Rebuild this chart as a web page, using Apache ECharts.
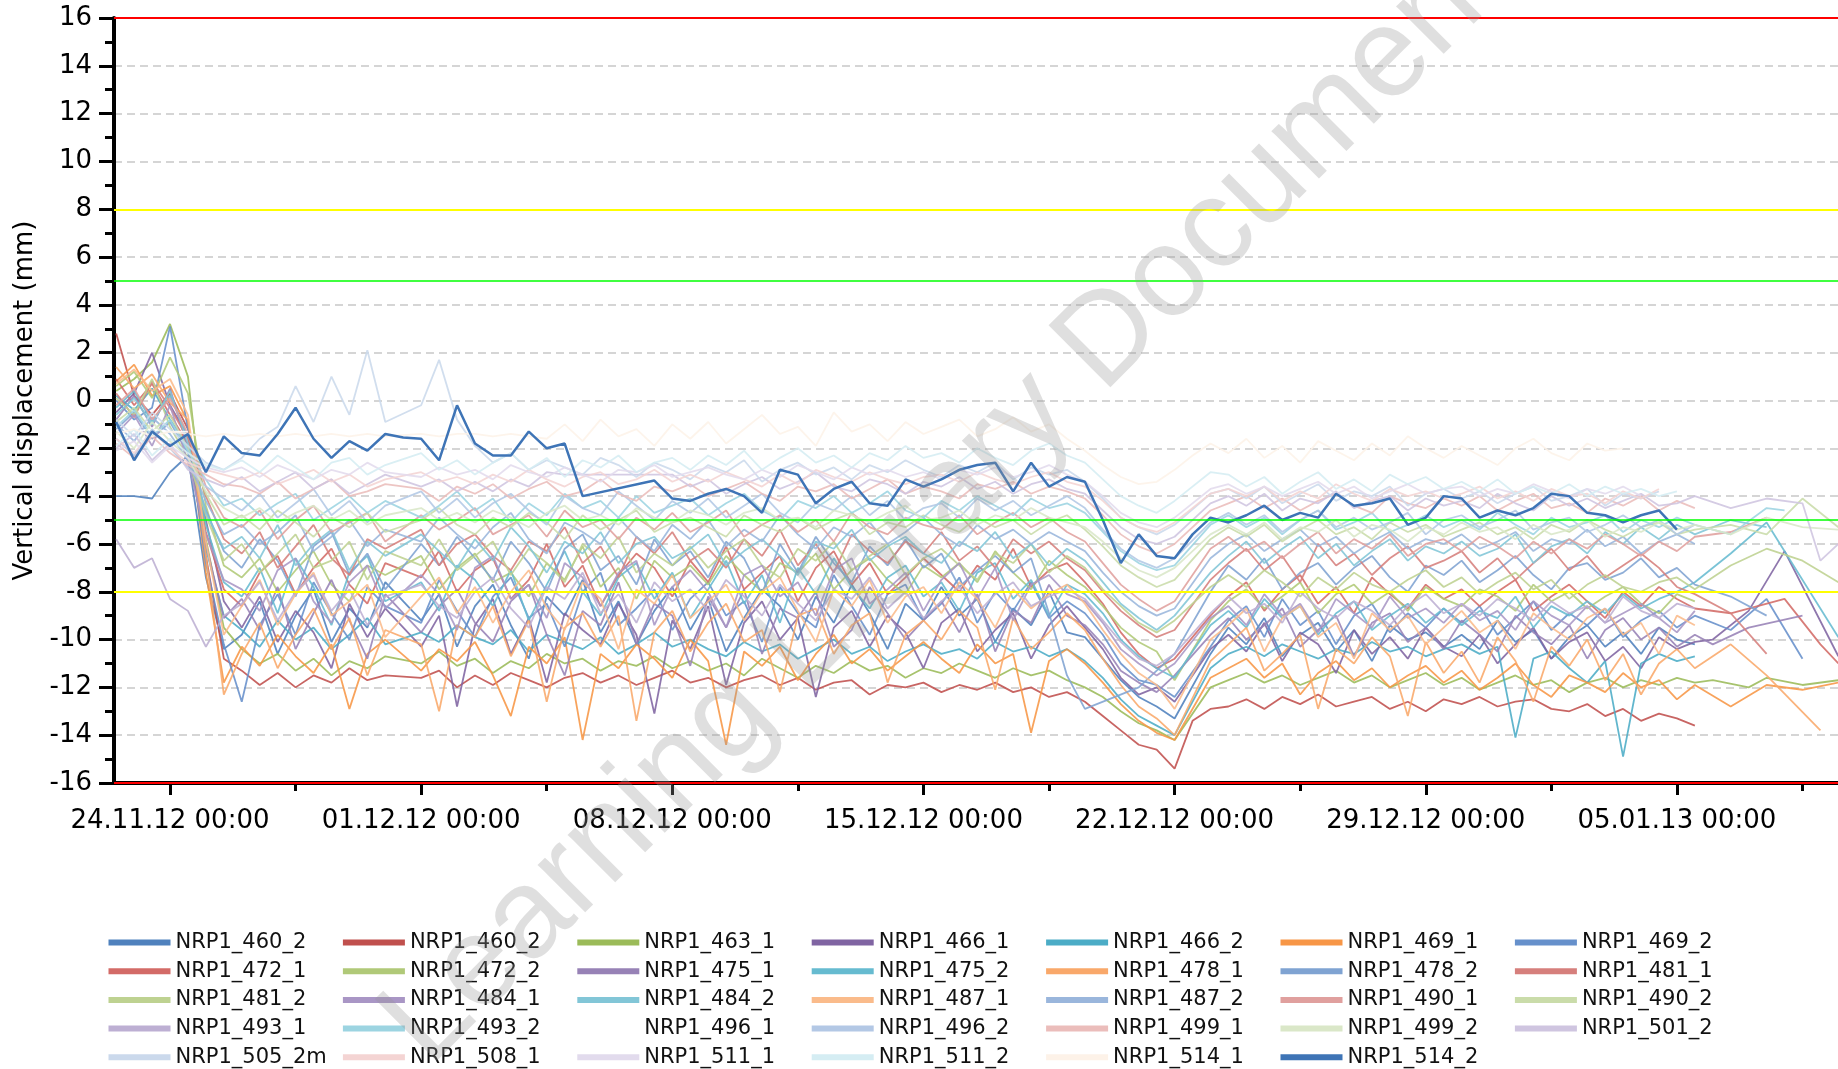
<!DOCTYPE html>
<html>
<head>
<meta charset="utf-8">
<title>Vertical displacement</title>
<script src="https://cdn.jsdelivr.net/npm/echarts@6/dist/echarts.min.js"></script>
<style>
  html, body { margin: 0; padding: 0; background: #fff; }
  #main { width: 1838px; height: 1069px; }
</style>
</head>
<body>
<div id="main"></div>
<script>
const _ = null;

// sample times in days after 24.11.12 00:00
const days = [-1.5,-1,-0.5,0,0.5,1,1.5,2,2.5,3,3.5,4,4.5,5,5.5,6,6.5,7,7.5,8,8.5,9,9.5,10,10.5,11,11.5,12,12.5,13,13.5,14,14.5,15,15.5,16,16.5,17,17.5,18,18.5,19,19.5,20,20.5,21,21.5,22,22.5,23,23.5,24,24.5,25,25.5,26,26.5,27,27.5,28,28.5,29,29.5,30,30.5,31,31.5,32,32.5,33,33.5,34,34.5,35,35.5,36,36.5,37,37.5,38,38.5,39,39.5,40,40.5,41,41.5,42,42.5,43,43.5,44,44.5,45,45.5,46,46.5];

const labelDays = [0, 7, 14, 21, 28, 35, 42];
const minorDays = [3.5, 10.5, 17.5, 24.5, 31.5, 38.5, 45.5];

const redLimits = [16, -16];
const yellowLimits = [8, -8];
const greenLimits = [5, -5];

// vertical displacement (mm)
const v460_2a = [-4.0,-4.0,-4.1,-3.0,-2.3,-7.4,-10.4,
  -9.8,-8.4,-10.6,-9.0,-7.9,-10.1,-8.7,-9.5,-7.6,_,-9.2,-8.1,-10.3,
  -8.6,-7.7,-9.4,-10.8,-8.2,-9.0,-7.5,-9.7,-8.4,-10.2,-8.8,-7.8,-9.6,
  -8.3,-10.5,-9.1,-7.9,-8.6,-10.0,-8.2,-9.3,-7.7,-8.9,-10.4,-8.5,-9.2,
  -7.8,-9.0,-8.3,-10.1,-8.7,-9.4,-8.0,-9.7,
  -9.9,-10.8,-11.7,-12.4,-12.8,-13.3,_,-10.6,
  -9.5,-10.2,-9.1,-10.7,-9.8,-9.3,-10.5,-9.6,-10.9,-9.4,-10.0,-9.7,-10.3,
  -9.8,-10.4,-9.2,-10.1,-9.6,-10.8,-9.9,-9.4,-10.3,-9.7,-10.6,-9.5,-10.0,-10.2];
const v460_2b = [2.8,0.2,-0.6,0.3,-1.2,-6.5,-10.8,
  -11.3,-11.9,-11.4,-12.0,-11.5,-11.8,-11.2,-11.7,-11.5,_,-11.6,-11.3,-12.0,
  -11.5,-11.9,-11.4,-11.7,-12.0,-11.6,-11.4,-11.8,-11.5,-11.9,-11.6,-11.3,-11.8,
  -11.6,-12.0,-11.7,-11.5,-11.9,-11.6,-12.1,-11.8,-11.7,-12.3,-11.9,-12.0,-11.8,
  -12.2,-11.9,-12.1,-11.8,-12.2,-12.0,-12.4,-12.2,
  -12.6,-13.2,-13.8,-14.4,-14.6,-15.4,-13.4,-12.9,
  -12.8,-12.5,-12.9,-12.4,-12.7,-12.3,-12.8,-12.6,-12.4,-12.9,-12.6,-13.0,-12.5,
  -12.7,-12.4,-12.8,-12.6,-12.5,-12.9,-13.0,-12.7,-13.2,-12.9,-13.4,-13.1,-13.3,-13.6];
const v463_1 = [0.4,0.9,1.6,3.2,1.0,-5.8,-9.5,
  -10.4,-11.0,-10.6,-11.3,-10.8,-11.5,-10.9,-11.2,-10.7,_,-11.0,-10.5,-11.1,
  -10.8,-11.4,-10.9,-11.2,-10.6,-11.0,-10.8,-11.3,-10.9,-11.1,-10.7,-11.2,-10.9,
  -11.3,-11.0,-11.5,-10.8,-11.2,-11.6,-11.1,-11.4,-10.9,-11.3,-11.1,-11.6,-11.2,
  -11.4,-11.0,-11.3,-11.6,-11.2,-11.5,-11.3,-11.7,
  -12.0,-12.4,-13.0,-13.5,-13.8,-14.2,_,-12.0,
  -11.7,-11.4,-11.8,-11.5,-11.9,-11.6,-11.3,-11.8,-11.5,-12.0,-11.7,-11.4,-11.9,
  -11.6,-12.1,-11.8,-11.5,-11.9,-11.7,-12.2,-11.8,-11.6,-12.0,-11.7,-11.9,-11.6,-11.8,
  -11.7,_,-12.0,-11.6,_,-11.9,_,-11.7];
const v466_1 = [-0.5,0.3,2.0,-0.2,-1.5,-5.0,-8.4,
  -9.5,-8.2,-10.1,-8.8,-9.7,-11.2,-8.5,-9.9,-8.7,_,-10.3,-9.0,-12.8,
  -9.4,-8.3,-10.6,-9.1,-11.8,-8.9,-9.6,-10.2,-8.5,-9.8,-13.1,-9.2,-10.4,
  -8.6,-11.9,-9.3,-8.4,-10.0,-9.1,-12.4,-9.5,-8.8,-10.3,-9.0,-9.7,-11.2,
  -9.3,-8.7,-10.5,-9.6,-8.9,-10.8,-9.4,-8.6,
  -9.5,-10.4,-11.6,-12.3,-12.0,-12.6,_,-10.4,
  -9.8,-10.5,-9.3,-10.9,-9.7,-10.2,-11.4,-9.6,-10.6,-9.9,-10.8,-9.5,-10.3,
  -10.7,-9.8,-11.0,-10.2,-9.5,-10.8,-10.1,-9.7,-10.9,-10.3,-11.2,-9.9,-10.4,-10.1,
  -10.0,_,-8.8,_,-6.3,_,_,-10.7];
const v466_2 = [0.2,-0.4,0.5,-0.8,-1.9,-6.2,-9.0,
  -9.6,-10.3,-9.2,-10.0,-9.5,-10.4,-9.8,-9.1,-10.2,_,-9.7,-10.1,-9.4,
  -9.9,-10.2,-9.6,-10.5,-9.8,-10.1,-10.4,-9.9,-10.6,-10.2,-9.7,-10.3,-10.0,
  -10.4,-10.7,-10.1,-10.5,-10.2,-10.8,-10.4,-10.0,-10.6,-10.3,-10.9,-10.5,-10.2,
  -10.6,-10.4,-10.8,-10.1,-10.5,-10.3,-10.7,-10.4,
  -10.9,-11.6,-12.5,-13.2,-13.6,-14.0,_,-11.2,
  -10.6,-10.3,-10.7,-10.2,-10.5,-10.8,-10.4,-10.6,-10.1,-10.5,-10.3,-10.7,-10.4,
  -10.2,-10.6,-10.3,-14.1,-10.8,-10.5,-11.2,-11.8,-10.9,-14.9,-11.0,-10.6,-10.9,-10.7];
const v469_1 = [0.8,1.5,0.2,0.6,-0.9,-7.2,-11.8,
  -10.3,-11.1,-9.8,-10.7,-11.4,-10.2,-12.9,-10.6,-10.0,_,-11.3,-10.4,-10.9,
  -10.1,-11.5,-13.2,-10.3,-11.0,-9.9,-14.2,-10.6,-11.2,-10.2,-10.8,-11.6,-10.0,
  -10.9,-14.4,-10.5,-11.1,-10.3,-11.7,-10.6,-9.8,-11.0,-10.4,-11.3,-10.7,-10.1,
  -10.8,-11.4,-10.2,-11.0,-10.6,-13.9,-10.9,-10.4,
  -11.0,-11.8,-12.7,-13.4,-13.9,-14.2,_,-11.6,
  -11.2,-10.8,-11.6,-11.0,-12.3,-11.4,-10.9,-11.7,-11.2,-12.0,-11.5,-11.1,-11.8,
  -11.3,-12.1,-11.6,-11.0,-11.9,-12.4,-11.5,-11.8,-12.2,-11.4,-12.0,-11.7,-12.5,-11.9,
  _,-12.8,_,-11.9,_,-12.1,_,-11.8];
const v469_2 = [0.0,-0.8,-0.3,3.1,-1.2,-6.8,-10.2,
  -12.6,-9.4,-8.1,-9.8,-7.6,-8.9,-10.0,-7.8,-8.6,_,-9.3,-7.5,-8.8,
  -9.9,-8.2,-7.4,-9.1,-8.5,-10.3,-8.0,-7.2,-9.4,-8.7,-7.9,-9.6,-8.3,
  -7.6,-9.0,-8.4,-10.1,-7.8,-8.9,-9.5,-7.3,-8.6,-9.8,-8.1,-7.7,-9.2,
  -8.5,-7.4,-9.3,-8.0,-8.8,-7.6,-9.1,-8.4,
  -8.9,-9.8,-11.0,-11.7,-11.9,-12.4,_,-10.3,
  -9.2,-8.6,-9.9,-8.3,-9.4,-8.8,-10.2,-9.0,-8.5,-9.7,-8.9,-9.5,-8.7,
  -9.3,-8.6,-9.8,-9.1,-8.4,-9.6,-8.9,-9.4,-8.7,-9.9,-9.2,-8.8,-9.5,-9.0,
  _,-9.6,_,-8.3,_,-10.8];
const v472_1 = [0.9,-0.2,0.7,-0.6,-1.8,-5.5,-7.9,
  -8.6,-7.2,-6.5,-8.1,-7.0,-6.2,-7.7,-8.5,-6.8,_,-7.4,-6.3,-8.0,
  -7.1,-6.6,-8.3,-7.5,-6.0,-7.8,-6.9,-8.6,-7.3,-6.4,-7.0,-8.2,-6.7,
  -7.6,-6.1,-7.9,-7.2,-6.5,-8.4,-7.0,-6.3,-7.7,-6.8,-8.1,-7.4,-6.6,
  -7.3,-8.0,-6.9,-7.5,-6.2,-7.8,-7.1,-6.8,
  -7.6,-8.5,-9.7,-10.6,-11.2,-10.8,_,-9.0,
  -8.2,-7.6,-8.8,-7.9,-7.3,-8.5,-7.8,-8.9,-7.4,-8.1,-8.7,-7.7,-8.3,
  -7.9,-8.6,-8.0,-7.5,-8.8,-8.2,-7.7,-8.4,-9.1,-8.0,-8.6,-7.8,-8.3,-8.7,
  _,-8.9,_,_,-8.3,_,-10.2,-11.0];
const v472_2 = [0.6,1.2,0.1,1.8,0.3,-4.4,-6.9,
  -7.4,-6.6,-8.0,-7.1,-6.3,-7.7,-8.4,-6.9,-7.3,_,-6.5,-7.9,-7.0,
  -6.4,-7.6,-7.2,-8.2,-6.8,-7.5,-6.1,-7.8,-7.0,-8.3,-6.7,-7.4,-6.9,
  -7.7,-6.5,-7.3,-8.0,-6.8,-7.2,-6.4,-7.9,-7.1,-6.6,-7.5,-8.1,-6.9,
  -7.4,-6.8,-7.6,-6.3,-7.2,-7.9,-6.7,-7.3,
  -7.8,-8.6,-9.5,-10.1,-10.5,-11.7,_,-9.2,
  -8.4,-7.9,-8.7,-8.2,-7.6,-8.9,-8.1,-7.7,-8.5,-8.0,-8.8,-7.8,-8.3,
  -8.6,-7.9,-8.2,-8.8,-7.7,-8.4,-8.0,-8.7,-8.2,-7.8,-8.5,-8.9,-8.1,-8.4];
const v475_1 = [-0.8,0.2,-1.1,0.5,-2.0,-6.0,-9.1,
  -8.3,-9.6,-7.8,-10.4,-8.9,-7.5,-9.2,-10.8,-8.1,_,-9.7,-8.6,-7.9,
  -9.3,-10.1,-8.4,-7.7,-9.8,-11.5,-8.8,-9.4,-7.6,-10.2,-8.5,-9.0,-11.1,
  -8.2,-9.5,-7.9,-10.6,-8.7,-9.1,-8.0,-10.3,-9.6,-7.8,-8.9,-10.0,-9.2,
  -8.4,-9.7,-8.1,-10.5,-8.8,-9.3,-7.7,-9.0,
  -9.4,-10.2,-11.3,-11.8,-12.2,-11.5,_,-9.8,
  -9.1,-10.0,-9.4,-8.7,-10.3,-9.6,-9.0,-10.7,-9.3,-8.9,-10.1,-9.5,-10.4,
  -9.2,-9.8,-10.5,-9.0,-9.7,-10.2,-9.4,-10.8,-9.6,-9.1,-10.0,-9.5,-10.3,-9.8,
  -10.2,_,-9.5,_,_,-9.0];
const v475_2 = [-0.3,0.4,-0.9,0.2,-1.5,-5.2,-7.6,
  -8.2,-7.0,-8.9,-6.6,-7.8,-9.4,-7.2,-6.5,-8.4,_,-7.6,-8.8,-6.9,
  -7.5,-8.6,-7.1,-9.2,-7.7,-6.3,-8.0,-9.0,-7.4,-6.8,-8.3,-7.2,-9.1,
  -7.9,-6.7,-8.5,-7.3,-9.3,-7.0,-8.1,-6.6,-7.8,-8.7,-7.4,-6.9,-8.2,
  -7.6,-8.8,-7.2,-6.8,-8.3,-7.5,-9.0,-7.7,
  -8.1,-8.9,-10.0,-10.7,-11.2,-11.6,_,-9.4,
  -8.8,-9.5,-8.3,-9.1,-8.6,-9.8,-8.9,-8.4,-9.6,-9.0,-8.5,-9.3,-8.7,
  -9.4,-8.8,-9.1,-8.2,-9.5,-8.6,-9.0,-8.4,-8.9,-8.1,-8.7,-8.3,-8.0,-7.6,
  _,-6.4,_,-5.1,_,_,_,-9.9];
const v478_1 = [1.4,0.5,1.1,-0.1,-0.8,-6.5,-12.3,
  -10.6,-9.3,-11.2,-9.8,-8.7,-10.4,-9.1,-11.5,-9.6,_,-10.2,-13.0,-9.4,
  -9.9,-8.6,-10.7,-9.2,-12.6,-9.5,-8.9,-10.3,-9.0,-13.4,-9.7,-8.8,-10.5,
  -9.3,-8.5,-10.1,-9.6,-12.2,-9.0,-8.7,-10.6,-9.4,-8.9,-11.8,-9.8,-9.2,
  -10.0,-8.8,-9.5,-12.1,-9.1,-10.4,-9.7,-8.9,
  -9.6,-10.8,-11.9,-12.8,-13.3,-14.0,_,-10.9,
  -10.2,-9.5,-11.3,-10.6,-9.8,-12.9,-10.4,-11.0,-9.9,-10.7,-13.2,-10.1,-11.4,
  -10.5,-11.8,-9.9,-10.9,-12.6,-10.3,-11.1,-10.0,-11.7,-10.6,-12.3,-11.0,-10.4,-11.2,
  _,-10.2,_,-11.5,_,_,-13.8];
const v478_2 = [-1.2,-0.5,-1.6,-0.9,-2.2,-4.6,-6.3,
  -7.0,-5.8,-6.7,-8.2,-6.1,-5.5,-7.3,-6.4,-7.9,_,-6.0,-6.9,-5.7,
  -6.6,-7.5,-5.9,-6.8,-8.0,-6.2,-5.6,-7.1,-6.5,-7.7,-5.8,-6.9,-6.3,
  -7.4,-5.9,-6.6,-8.1,-6.0,-7.2,-5.7,-6.8,-7.6,-6.1,-6.9,-5.8,-7.0,
  -6.4,-7.8,-7.1,-6.5,-7.2,-6.6,-8.9,-11.5,
  -12.9,_,_,-12.0,-11.3,-10.6,_,-8.0,
  -6.9,-7.5,-6.6,-7.9,-7.2,-6.8,-7.7,-7.0,-6.5,-7.4,-8.0,-6.9,-7.3,
  -6.7,-7.6,-7.1,-6.5,-7.3,-7.9,-7.0,-6.8,-7.5,-7.2,-6.6,-7.4,-7.0,-7.7,
  _,-8.2,_,-9.0];
const v481_1 = [0.3,-0.7,0.8,-0.3,-1.6,-4.0,-5.8,
  -6.4,-5.5,-7.0,-6.1,-5.2,-6.6,-7.3,-5.8,-6.2,_,-5.4,-6.9,-6.0,
  -5.6,-6.5,-7.1,-5.9,-6.3,-5.3,-6.8,-6.1,-7.4,-5.7,-6.4,-5.5,-6.7,
  -6.2,-7.0,-5.8,-6.5,-5.4,-6.9,-6.0,-7.2,-5.6,-6.3,-6.8,-5.9,-6.4,
  -5.5,-6.7,-6.1,-7.0,-5.8,-6.4,-5.9,-6.6,
  -7.1,-8.0,-8.8,-9.4,-9.9,-9.6,_,-7.5,
  -6.8,-6.2,-7.1,-6.5,-7.6,-6.0,-6.9,-6.4,-7.3,-6.6,-6.1,-7.0,-6.7,
  -6.3,-7.2,-6.6,-7.5,-6.8,-6.2,-7.1,-6.5,-7.4,-6.9,-6.4,-7.0,-7.8,-8.1,
  _,-8.9,_,-10.6];
const v481_2 = [0.1,-0.6,0.9,-1.1,-2.4,-4.8,-6.7,
  -6.0,-7.2,-6.4,-5.6,-7.0,-6.7,-5.9,-7.5,-6.3,_,-6.9,-5.8,-7.1,
  -6.5,-5.9,-7.3,-6.2,-6.8,-7.6,-6.0,-6.6,-5.7,-7.2,-6.4,-6.9,-6.1,
  -7.0,-6.3,-5.8,-6.9,-7.4,-6.2,-6.7,-5.9,-7.1,-6.5,-6.0,-7.3,-6.6,
  -6.2,-6.9,-7.5,-6.4,-6.8,-6.0,-7.2,-6.5,
  -7.0,-7.9,-8.6,-9.3,-9.7,-9.2,_,-7.8,
  -7.3,-7.8,-7.1,-7.6,-8.2,-7.4,-7.9,-7.2,-7.7,-8.0,-7.5,-7.1,-7.8,
  -7.4,-8.1,-7.6,-7.2,-7.9,-7.5,-8.3,-7.7,-7.3,-7.8,-8.0,-7.6,-7.4,-7.9,
  _,-6.9,_,-6.2,_,-6.7,_,-7.6];
const v484_1 = [-1.4,-0.6,-1.9,-0.2,-2.6,-5.6,-7.5,
  -7.9,-8.8,-7.1,-6.6,-8.4,-9.3,-7.6,-6.9,-8.7,_,-7.3,-8.1,-9.6,
  -7.0,-6.5,-8.3,-7.7,-9.1,-6.8,-7.4,-8.6,-7.2,-6.7,-9.4,-7.8,-7.1,
  -8.0,-9.5,-7.3,-6.9,-8.2,-7.6,-9.0,-7.1,-6.6,-8.5,-7.9,-7.2,-8.8,
  -7.5,-6.8,-8.3,-7.0,-9.2,-7.7,-7.3,-8.1,
  -8.4,-9.3,-10.4,-11.0,-11.5,-11.0,_,-9.1,
  -8.6,-9.4,-8.1,-9.0,-8.5,-9.7,-8.3,-8.9,-9.5,-8.2,-9.1,-8.7,-9.3,
  -8.5,-9.2,-8.8,-9.6,-8.4,-9.0,-9.4,-8.6,-9.3,-8.9,-8.5,-9.1,-9.7,-8.8];
const v484_2 = [-0.6,0.1,-1.0,0.4,-1.8,-4.7,-6.2,
  -5.7,-6.6,-5.2,-6.9,-6.0,-5.4,-7.1,-5.9,-6.5,_,-5.6,-6.3,-7.0,
  -5.8,-6.7,-5.3,-6.1,-7.2,-5.9,-6.4,-5.5,-6.8,-6.0,-5.7,-6.6,-6.2,
  -5.6,-6.9,-6.3,-5.8,-6.5,-7.3,-5.9,-6.2,-5.4,-6.7,-6.1,-5.7,-6.4,
  -6.8,-5.9,-6.3,-5.5,-6.6,-6.0,-6.9,-6.2,
  -6.7,-7.6,-8.5,-9.1,-9.6,-9.0,_,-7.2,
  -6.5,-5.9,-6.8,-6.2,-5.7,-6.6,-6.0,-6.9,-6.3,-5.8,-6.7,-6.1,-6.4,
  -5.9,-6.5,-6.2,-5.6,-6.8,-6.1,-5.8,-6.4,-5.5,-6.0,-5.3,-5.8,-5.2,-5.6,
  _,-5.0,_,-5.3];
const v487_1 = [0.7,1.3,0.4,0.9,-0.6,-5.9,-9.8,
  -8.6,-7.5,-9.4,-8.1,-7.2,-9.0,-8.4,-7.7,-9.9,_,-8.2,-7.4,-8.9,
  -7.8,-9.3,-8.0,-7.1,-8.7,-9.6,-7.6,-8.3,-10.4,-7.9,-8.5,-7.3,-9.1,
  -8.4,-7.7,-9.2,-8.0,-7.4,-8.8,-10.1,-7.9,-8.6,-7.5,-9.3,-8.2,-7.8,
  -8.9,-7.6,-8.3,-9.5,-7.9,-8.7,-8.1,-7.7,
  -8.5,-9.6,-10.6,-11.4,-11.9,-12.9,_,-10.0,
  -9.4,-8.7,-10.5,-9.1,-8.6,-9.9,-9.3,-10.8,-8.9,-9.6,-9.0,-10.2,-9.5,
  -8.8,-9.7,-9.2,-10.4,-8.9,-9.5,-10.0,-9.1,-8.7,-9.8,-9.3,-10.6,-9.0,-9.4];
const v487_2 = [-1.0,-1.7,-0.7,-1.4,-2.5,-4.2,-5.6,
  -5.2,-6.0,-5.5,-4.8,-6.3,-5.7,-5.0,-6.1,-5.4,_,-5.9,-4.9,-5.6,
  -6.2,-5.3,-4.7,-5.8,-6.4,-5.1,-5.5,-6.0,-4.9,-5.7,-6.3,-5.2,-5.8,
  -5.0,-6.1,-5.4,-5.9,-4.8,-5.6,-6.2,-5.3,-5.7,-5.1,-6.0,-5.5,-4.9,
  -5.6,-6.1,-5.2,-5.8,-5.4,-6.0,-5.5,-5.9,
  -6.3,-7.2,-8.0,-8.6,-9.0,-8.7,_,-6.6,
  -6.0,-5.6,-6.3,-5.8,-5.4,-6.1,-5.7,-6.4,-5.9,-5.5,-6.2,-5.8,-6.0,
  -5.6,-6.2,-5.9,-5.5,-6.3,-5.8,-6.0,-5.4,-6.1,-5.7,-6.4,-5.9,-5.6,-6.0];
const v490_1 = [-0.2,0.5,-0.8,0.1,-1.4,-3.6,-4.9,
  -5.3,-4.6,-5.8,-5.0,-4.4,-5.5,-5.1,-4.7,-5.9,_,-4.8,-5.4,-5.0,
  -4.5,-5.6,-5.2,-4.8,-5.7,-4.6,-5.3,-5.0,-5.8,-4.9,-5.4,-4.7,-5.5,
  -5.1,-4.6,-5.7,-5.2,-4.8,-5.5,-5.0,-5.9,-4.7,-5.3,-5.6,-4.9,-5.2,
  -5.4,-4.8,-5.6,-5.1,-4.7,-5.3,-4.9,-5.5,
  -5.9,-6.8,-7.7,-8.3,-8.8,-8.4,_,-6.2,
  -5.7,-6.3,-5.9,-6.6,-6.0,-5.5,-6.4,-5.8,-6.2,-5.6,-6.5,-6.0,-5.8,
  -6.3,-5.7,-6.1,-6.6,-5.9,-6.4,-5.8,-6.2,-5.6,-6.0,-6.5,-5.9,-6.3,-5.7,
  _,-5.5,_,-4.9];
const v490_2 = [-0.9,-0.3,-1.3,-0.6,-2.0,-3.9,-5.2,
  -4.8,-5.4,-4.6,-5.1,-5.7,-4.9,-5.3,-4.7,-5.5,_,-5.0,-4.5,-5.2,
  -5.6,-4.9,-5.3,-4.7,-5.1,-5.8,-4.8,-5.4,-5.0,-4.6,-5.5,-5.1,-4.9,
  -5.3,-5.7,-4.8,-5.2,-5.5,-4.9,-5.4,-5.0,-4.7,-5.6,-5.1,-5.3,-4.8,
  -5.2,-5.5,-4.9,-5.3,-5.0,-5.6,-5.1,-4.8,
  -5.4,-6.1,-6.9,-7.4,-7.8,-7.5,_,-5.8,
  -5.3,-5.7,-5.2,-5.9,-5.4,-5.0,-5.6,-5.3,-5.8,-5.1,-5.5,-5.2,-5.7,
  -5.4,-5.1,-5.6,-5.3,-5.8,-5.2,-5.5,-5.0,-5.4,-5.7,-5.3,-5.1,-5.6,-5.4,
  _,-5.2,_,-5.6,_,-4.1,_,-5.3];
const v493_1 = [-5.8,-7.0,-6.6,-8.3,-8.8,-10.3,-9.0,
  -8.5,-7.6,-9.2,-8.0,-7.3,-8.8,-7.9,-9.4,-8.2,_,-7.7,-8.6,-9.1,
  -8.0,-7.4,-8.7,-9.5,-7.8,-8.3,-7.2,-8.9,-8.1,-9.3,-7.6,-8.4,-7.9,
  -8.8,-7.5,-8.2,-9.0,-7.7,-8.5,-9.2,-7.9,-8.3,-7.4,-8.7,-8.0,-9.1,
  -8.4,-7.8,-8.9,-8.1,-7.6,-8.6,-8.2,-7.9,
  -8.3,-9.2,-10.1,-10.8,-11.1,-10.6,_,-8.9,
  -8.2,-8.9,-8.5,-9.3,-8.0,-8.7,-9.1,-8.4,-8.8,-9.4,-8.6,-8.1,-8.9,
  -8.5,-9.0,-8.3,-8.7,-9.2,-8.4,-8.9,-8.6,-9.3,-8.2,-8.8,-9.1,-8.5,-8.7];
const v493_2 = [-1.1,-0.4,-1.5,-0.8,-2.1,-3.3,-4.4,
  -4.1,-4.8,-4.3,-3.9,-5.0,-4.5,-4.0,-4.7,-4.2,_,-4.9,-4.4,-3.8,
  -4.6,-4.1,-5.1,-4.3,-4.8,-3.9,-4.5,-4.2,-4.9,-4.0,-4.7,-4.4,-4.1,
  -4.8,-4.3,-3.9,-4.6,-5.0,-4.2,-4.5,-4.0,-4.7,-4.3,-3.8,-4.6,-4.9,
  -4.2,-4.6,-4.0,-4.4,-4.8,-4.1,-4.5,-4.3,
  -4.7,-5.5,-6.3,-6.8,-7.1,-6.9,_,-5.2,
  -4.8,-5.3,-4.9,-5.6,-5.0,-4.6,-5.4,-5.1,-4.7,-5.5,-5.2,-4.8,-5.3,
  -5.0,-5.4,-4.7,-5.2,-5.6,-4.9,-5.3,-5.1,-4.8,-5.5,-5.0,-5.3,-4.9,-5.2,
  _,-5.6,_,-4.5,-4.6];
const v496_1 = [-1.3,-1.3,-1.2,-1.3,-1.3];
const v496_2 = [-1.6,-2.3,-1.2,-2.0,-2.8,-3.6,-4.1,
  -4.6,-3.9,-4.9,-4.3,-3.7,-4.8,-4.2,-5.1,-4.4,_,-3.8,-4.7,-4.1,
  -4.9,-4.3,-3.9,-4.6,-5.2,-4.0,-4.5,-4.8,-3.8,-4.4,-5.0,-4.2,-4.7,
  -4.1,-4.9,-4.4,-3.9,-4.7,-5.1,-4.3,-4.6,-4.0,-4.8,-4.2,-5.0,-4.5,
  -4.3,-4.9,-4.1,-4.6,-4.2,-4.8,-4.4,-4.0,
  -4.5,-5.4,-6.2,-6.7,-7.0,-6.6,_,-5.1,
  -4.7,-5.2,-4.8,-5.5,-5.0,-4.6,-5.3,-4.9,-5.4,-5.1,-4.7,-5.6,-5.0,
  -4.8,-5.3,-5.0,-4.6,-5.4,-5.1,-4.9,-5.5,-5.2,-4.8,-5.3,-5.0,-5.6,-5.2];
const v499_1 = [-1.8,-2.4,-1.5,-2.2,-2.7,-3.1,-3.5,
  -3.6,-3.9,-3.4,-4.1,-3.7,-3.3,-4.0,-3.8,-3.5,_,-3.7,-4.2,-3.6,
  -3.9,-3.5,-4.1,-3.7,-3.4,-4.0,-3.8,-3.3,-3.9,-4.2,-3.6,-3.8,-3.5,
  -4.0,-3.7,-3.4,-3.9,-4.2,-3.6,-3.8,-3.5,-4.1,-3.7,-3.3,-3.9,-3.6,
  -3.8,-4.1,-3.5,-3.7,-3.4,-3.9,-3.6,-3.8,
  -4.1,-4.8,-5.6,-6.1,-6.4,-6.0,_,-4.6,
  -4.3,-4.0,-4.5,-4.1,-4.6,-4.2,-3.9,-4.4,-4.7,-4.0,-4.3,-4.5,-4.1,
  -4.4,-4.0,-4.6,-4.2,-3.9,-4.5,-4.3,-4.7,-4.1,-4.4,-4.0,-4.6,-4.2,-4.5];
const v499_2 = [-1.3,-2.0,-0.9,-1.7,-2.4,-3.8,-4.5,
  -4.9,-4.5,-5.1,-4.7,-4.4,-5.0,-4.6,-5.2,-4.8,_,-4.5,-5.0,-4.7,
  -5.1,-4.6,-4.9,-5.3,-4.7,-4.4,-5.0,-4.8,-5.2,-4.5,-4.9,-5.1,-4.6,
  -4.8,-5.2,-4.7,-4.5,-5.0,-4.9,-5.3,-4.6,-4.8,-5.1,-4.7,-4.4,-5.0,
  -4.9,-4.6,-5.2,-4.8,-5.0,-4.5,-4.9,-5.1,
  -5.3,-5.9,-6.6,-7.1,-7.4,-7.0,_,-5.6,
  -5.2,-5.6,-5.1,-5.8,-5.3,-5.5,-5.0,-5.7,-5.2,-5.4,-5.9,-5.3,-5.6,
  -5.1,-5.5,-5.3,-5.8,-5.2,-5.6,-5.4,-5.0,-5.7,-5.3,-5.5,-5.1,-5.4,-5.2,
  _,-5.6,_,-4.9,_,-5.3,_,-5.4];
const v501_2 = [-2.0,-1.4,-2.5,-1.8,-2.9,-3.3,-3.6,
  -3.2,-3.8,-3.4,-3.0,-3.7,-3.3,-3.9,-3.5,-3.1,_,-3.6,-3.3,-3.8,
  -3.4,-3.8,-3.3,-3.6,-3.0,-3.1,_,_,_,_,_,-3.1,-3.6,
  -3.3,-3.9,-3.5,-3.2,-3.7,-3.4,-3.0,-3.6,-3.8,-3.3,-3.5,-3.9,-3.4,
  -3.6,-3.2,-3.7,-3.4,-3.9,-3.5,-3.3,-3.7,
  -3.9,-4.6,-5.3,-5.8,-6.0,-5.7,_,-4.3,
  -4.0,-4.4,-3.9,-4.6,-4.1,-4.3,-3.8,-4.5,-4.2,-4.0,-4.6,-4.1,-4.4,
  -4.2,-4.5,-3.9,-4.3,-4.6,-4.0,-4.4,-4.1,-4.5,-4.2,-3.9,-4.4,-4.3,-4.0,
  _,-4.5,_,-4.1,_,-4.3,-6.7,-6.0];
const v505_2m = [-0.8,-1.5,-0.5,-1.2,-1.9,-2.6,-2.9,
  -2.4,-1.6,-1.1,0.6,-0.9,1.0,-0.6,2.1,-0.9,_,-0.2,1.7,-0.8,
  -1.9,-2.6,-2.2,-2.9,-2.5,-2.8,-3.1,-2.4,-2.7,-3.2,-2.6,-2.9,-3.3,
  -2.7,-3.0,-2.5,-3.4,-2.9,-2.6,-3.1,-2.8,-3.3,-2.7,-3.0,-2.5,-2.9,
  -3.2,-2.7,-3.0,-2.6,-3.3,-2.8,-3.1,-2.9,
  -3.4,-4.1,-4.9,-5.3,-5.6,-5.2,_,-3.9,
  -3.7,-4.1,-3.6,-4.3,-3.9,-3.5,-4.2,-3.8,-4.0,-3.6,-4.4,-3.9,-3.7,
  -4.1,-3.8,-4.3,-3.9,-3.6,-4.2,-4.0,-3.7,-4.4,-3.9,-4.1,-3.8];
const v508_1 = [-1.6,-2.2,-1.3,-2.0,-2.6,-2.9,-3.1,
  -3.3,-3.0,-3.5,-3.2,-2.9,-3.4,-3.1,-3.6,-3.3,_,-3.0,-3.4,-3.2,
  -3.5,-3.1,-3.4,-2.9,-3.3,-3.6,-3.2,-3.0,-3.5,-3.3,-2.9,-3.4,-3.1,
  -3.4,-3.0,-3.3,-3.6,-3.1,-3.5,-2.9,-3.2,-3.4,-3.0,-3.3,-3.5,-3.2,
  -3.1,-3.4,-3.0,-3.3,-3.5,-3.2,-3.0,-3.4,
  -3.6,-4.2,-4.9,-5.3,-5.5,-5.1,_,-3.9,
  -3.7,-4.0,-3.6,-4.2,-3.8,-4.1,-3.5,-3.9,-4.2,-3.7,-4.0,-3.8,-4.1,
  -3.9,-3.6,-4.1,-3.8,-4.2,-3.7,-4.0,-3.9,-4.3,-3.8,-4.1,-3.7];
const v511_1 = [-2.1,-1.7,-2.6,-1.9,-2.4,-2.8,-3.0,
  -2.8,-3.2,-2.7,-3.0,-3.3,-2.9,-3.1,-2.6,-3.0,_,-3.2,-2.8,-3.1,
  -2.9,-3.3,-2.7,-3.0,-3.2,-2.8,-3.1,-3.4,-2.9,-3.0,-2.7,-3.2,-3.0,
  -2.8,-3.1,-3.3,-2.9,-3.2,-2.7,-3.0,-3.3,-2.8,-3.1,-2.9,-3.2,-3.0,
  -3.3,-2.9,-3.1,-2.8,-3.2,-3.0,-2.7,-3.1,
  -3.4,-4.0,-4.7,-5.1,-5.3,-4.9,_,-3.7,
  -3.5,-3.9,-3.6,-4.0,-3.7,-3.4,-3.9,-3.6,-4.1,-3.8,-3.5,-3.9,-3.7,
  -3.6,-4.0,-3.7,-3.9,-3.5,-3.8,-4.1,-3.7,-3.9,-3.6,-4.0];
const v511_2 = [-1.9,-1.2,-2.3,-1.6,-2.2,-2.7,-2.9,
  -2.5,-3.0,-2.3,-2.8,-3.3,-2.6,-2.4,-3.1,-2.7,_,-2.2,-2.9,-2.5,
  -3.1,-2.6,-2.2,-2.9,-2.4,-3.2,-2.5,-2.8,-2.3,-3.0,-2.6,-2.4,-2.9,
  -2.3,-2.7,-2.1,-2.9,-2.4,-2.0,-2.6,-2.3,-2.8,-2.2,-2.5,-1.9,-2.4,
  -2.2,-2.6,-2.0,-2.4,-2.7,-2.1,-1.8,-2.3,
  -2.6,-3.3,-4.0,-4.4,-4.7,-4.2,_,-3.0,
  -3.1,-3.6,-3.2,-3.9,-3.4,-3.0,-3.7,-3.3,-3.8,-3.1,-3.5,-3.2,-3.7,
  -3.4,-3.8,-3.3,-3.9,-3.6,-3.9,-3.5,-4.0,-3.6,-3.9,-3.7,-4.0,-3.8];
const v514_1 = [-1.4,-1.2,-1.5,-1.3,-1.4,-1.5,-1.4,
  -1.5,-1.4,-1.5,-1.4,-1.5,-1.4,-1.5,-1.4,-1.5,_,-1.4,-1.5,-1.4,
  -1.4,-1.5,-1.4,-1.5,-1.6,-1.0,-1.7,-0.8,-1.5,-1.2,-1.9,-1.0,-1.6,
  -0.9,-1.8,-1.2,-0.6,-1.4,-1.1,-1.9,-0.5,-1.3,-1.0,-1.7,-0.9,-1.4,
  -1.1,-0.8,-1.5,-1.2,-0.7,-1.3,-1.0,-1.6,
  -2.1,-2.7,-3.2,-3.5,-3.4,-2.9,-2.3,-1.8,
  -2.2,-1.6,-2.4,-1.9,-2.6,-1.7,-2.1,-2.5,-1.8,-2.3,-1.5,-2.0,-2.4,
  -1.9,-2.3,-2.7,-2.0,-1.6,-2.2,-2.5,-1.8,-2.1,-2.0];
const v514_2 = [-0.9,-2.5,-1.3,-1.9,-1.4,-3.0,-1.5,
  -2.2,-2.3,-1.4,-0.3,-1.6,-2.4,-1.7,-2.1,-1.4,-1.55,-1.6,-2.5,-0.2,
  -1.8,-2.3,-2.3,-1.3,-2.0,-1.8,-4.0,_,_,_,-3.35,-4.1,-4.2,
  -3.9,-3.7,-4.0,-4.7,-2.9,-3.1,-4.3,-3.7,-3.4,-4.3,-4.4,-3.3,-3.6,
  -3.3,-2.9,-2.7,-2.6,-3.8,-2.6,-3.6,-3.2,
  -3.4,-5.0,-6.8,-5.6,-6.5,-6.6,-5.6,-4.9,
  -5.1,-4.8,-4.4,-5.0,-4.7,-4.9,-3.9,-4.4,-4.3,-4.1,-5.2,-4.9,-4.0,
  -4.1,-4.9,-4.6,-4.8,-4.5,-3.9,-4.0,-4.7,-4.8,-5.1,-4.8,-4.6,-5.4];

const seriesNames = ['NRP1_460_2','NRP1_460_2','NRP1_463_1','NRP1_466_1','NRP1_466_2','NRP1_469_1','NRP1_469_2',
  'NRP1_472_1','NRP1_472_2','NRP1_475_1','NRP1_475_2','NRP1_478_1','NRP1_478_2','NRP1_481_1',
  'NRP1_481_2','NRP1_484_1','NRP1_484_2','NRP1_487_1','NRP1_487_2','NRP1_490_1','NRP1_490_2',
  'NRP1_493_1','NRP1_493_2','NRP1_496_1','NRP1_496_2','NRP1_499_1','NRP1_499_2','NRP1_501_2',
  'NRP1_505_2m','NRP1_508_1','NRP1_511_1','NRP1_511_2','NRP1_514_1','NRP1_514_2'];
const seriesValues = [v460_2a, v460_2b, v463_1, v466_1, v466_2, v469_1, v469_2,
  v472_1, v472_2, v475_1, v475_2, v478_1, v478_2, v481_1,
  v481_2, v484_1, v484_2, v487_1, v487_2, v490_1, v490_2,
  v493_1, v493_2, v496_1, v496_2, v499_1, v499_2, v501_2,
  v505_2m, v508_1, v511_1, v511_2, v514_1, v514_2];
const seriesColors = ['#4F81BD','#C0504D','#9BBB59','#8064A2','#4BACC6','#F79646','#6690CB',
  '#D36B67','#B0C978','#9782B6','#66BBD0','#F9A86A','#7FA3D2','#D67F7C',
  '#BED291','#A996C5','#82C6D7','#FABB8B','#9AB6DC','#E0A09E','#CADCAA',
  '#BDAFD3','#9CD4E1','#FFFFFF','#B3C8E5','#EBBDBB','#DAE7C8','#CFC5E0',
  '#CBD9EC','#F4D4D3','#E2DBED','#D5EDF3','#FDF2E8','#3E74B6'];

const font = 'DejaVu Sans';

function fmtDay(d) {
  const t = new Date(Date.UTC(2012, 10, 24) + d * 86400000);
  const p = n => String(n).padStart(2, '0');
  return p(t.getUTCDate()) + '.' + p(t.getUTCMonth() + 1) + '.' + p(t.getUTCFullYear() % 100) +
    ' ' + p(t.getUTCHours()) + ':' + p(t.getUTCMinutes());
}

const series = seriesValues.map((vals, k) => ({
  name: seriesNames[k],
  type: 'line',
  data: vals.map((v, i) => [days[i], v]),
  showSymbol: false,
  connectNulls: true,
  silent: true,
  z: 2,
  itemStyle: { color: seriesColors[k] },
  lineStyle: { color: seriesColors[k], width: k === 33 ? 2.5 : 1.8, opacity: k === 33 ? 1 : 0.88 }
}));

const limitLine = (vals, color, width) => vals.map(v => ({ yAxis: v, lineStyle: { color: color, width: width, type: 'solid' } }));
series.push({
  name: 'limits',
  type: 'line',
  data: [],
  z: 3,
  silent: true,
  markLine: {
    symbol: 'none',
    silent: true,
    label: { show: false },
    data: limitLine(redLimits, '#ff0000', 2)
      .concat(limitLine(yellowLimits, '#ffff00', 2))
      .concat(limitLine(greenLimits, '#00ff00', 1.5))
  }
});

// legend in 7 columns, 5 rows
const legends = [];
for (let c = 0; c < 7; c++) {
  const items = [];
  for (let k = c; k < seriesNames.length; k += 7) {
    items.push({ name: seriesNames[k], itemStyle: { color: seriesColors[k] } });
  }
  legends.push({
    orient: 'vertical',
    left: 108.5,
    top: 930.5,
    left: 108.5 + c * 234.4,
    width: 230,
    height: 170,
    padding: 0,
    itemWidth: 62,
    itemHeight: 6,
    itemGap: 4.7,
    icon: 'rect',
    selectedMode: false,
    textStyle: { fontFamily: font, fontSize: 21, color: '#111', lineHeight: 24 },
    data: items
  });
}

const chart = echarts.init(document.getElementById('main'));
chart.setOption({
  animation: false,
  backgroundColor: '#fff',
  textStyle: { fontFamily: font },
  grid: { left: 114, right: 0, top: 18, bottom: 286, outerBoundsMode: 'none' },
  legend: legends,
  xAxis: [{
    type: 'value',
    min: -1.561,
    max: 46.49,
    axisLine: { onZero: false, lineStyle: { color: '#000', width: 4 } },
    axisTick: { customValues: labelDays, length: 12, lineStyle: { color: '#000', width: 3 } },
    axisLabel: { customValues: labelDays, formatter: fmtDay, fontFamily: font, fontSize: 26, color: '#000', margin: 25 },
    splitLine: { show: false }
  }, {
    type: 'value',
    min: -1.561,
    max: 46.49,
    position: 'bottom',
    axisLine: { show: false, onZero: false },
    axisTick: { customValues: minorDays, length: 8, lineStyle: { color: '#000', width: 3 } },
    axisLabel: { show: false },
    splitLine: { show: false }
  }],
  yAxis: {
    type: 'value',
    min: -16,
    max: 16,
    interval: 2,
    name: 'Vertical displacement (mm)',
    nameLocation: 'middle',
    nameGap: 70,
    nameTextStyle: { fontFamily: font, fontSize: 26, color: '#000' },
    axisLine: { onZero: false, lineStyle: { color: '#000', width: 4 } },
    axisTick: { length: 15, lineStyle: { color: '#000', width: 3 } },
    minorTick: { show: true, splitNumber: 2, length: 9, lineStyle: { color: '#000', width: 3 } },
    axisLabel: { fontFamily: font, fontSize: 26, color: '#000', margin: 22 },
    splitLine: { show: true, lineStyle: { color: '#c8c8c8', type: [8, 5], width: 1.5 } }
  },
  graphic: [{
    type: 'text',
    x: 946,
    y: 502,
    rotation: 45 * Math.PI / 180,
    z: 100,
    silent: true,
    style: {
      text: 'Learning Library Document',
      fontSize: 127,
      fontFamily: 'Liberation Sans',
      fill: 'rgba(150,150,150,0.3)',
      align: 'center',
      verticalAlign: 'middle',
      textAlign: 'center',
      textVerticalAlign: 'middle'
    }
  }],
  series: series
});
</script>
</body>
</html>
